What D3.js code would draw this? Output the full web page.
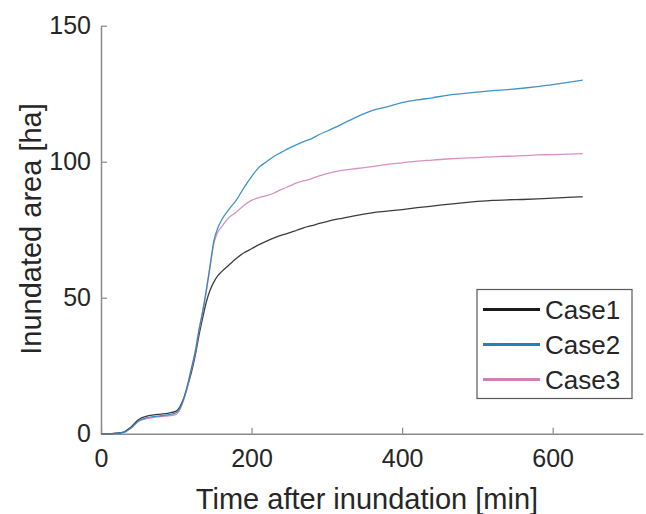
<!DOCTYPE html>
<html>
<head>
<meta charset="utf-8">
<script src="https://cdn.jsdelivr.net/npm/d3@7"></script>
<style>
  html, body { margin: 0; padding: 0; background: #fff; }
  svg { display: block; }
  text { font-family: "Liberation Sans", Arial, sans-serif; fill: #262626; }
</style>
</head>
<body>
<svg id="chart" width="646" height="514"></svg>
<script>
const time = [0,10,20,30,40,50,60,70,80,90,100,105,110,115,120,125,130,135,140,145,150,155,160,170,180,190,200,210,220,230,240,250,260,270,280,290,300,320,340,360,380,400,420,440,460,480,500,520,540,560,580,600,620,640];
const case1 = [0,0,0.2,0.6,2.5,5.2,6.4,6.9,7.2,7.6,8.3,10,13,17.5,22.5,28.5,36,42.5,48.5,52.8,55.8,58,59.5,62,64.5,66.5,68,69.5,70.8,72,73,73.8,74.8,75.8,76.5,77.3,78,79.2,80.3,81.2,81.8,82.4,83.1,83.7,84.3,84.9,85.4,85.8,86,86.1,86.3,86.6,86.9,87.1];
const case2 = [0,0,0.1,0.5,2.2,4.8,5.8,6.3,6.6,7,7.7,9.5,13,18,24,30,38,45,53,62,71,75.5,78.5,82.5,86,90.5,94.5,98,100,102,103.5,105,106.3,107.5,108.5,110,111.2,113.8,116.5,118.8,120.2,121.7,122.7,123.5,124.4,125,125.6,126.1,126.5,127,127.6,128.3,129.2,130];
const case3 = [0,0,0.1,0.4,2,4.5,5.5,6,6.3,6.6,7.1,9,12.5,17.5,23.5,29.5,37.5,44.5,52.5,61.5,70,74,76,79.5,81.5,84,85.8,86.8,87.5,88.5,89.8,91,92.2,93,93.8,94.8,95.6,96.8,97.5,98.2,99,99.6,100.2,100.6,101,101.3,101.5,101.8,102,102.2,102.5,102.6,102.8,103];
const seriesNames = ["Case1", "Case2", "Case3"];
const seriesColors = ["#1a1a1a", "#1f80c0", "#d27fb4"];
const xTicks = [0, 200, 400, 600];
const yTicks = [0, 50, 100, 150];
const xLabel = "Time after inundation [min]";
const yLabel = "Inundated area [ha]";

const svg = d3.select("#chart");
const x = d3.scaleLinear().domain([0, 720]).range([101, 643]);
const y = d3.scaleLinear().domain([0, 150]).range([433.7, 25.7]);

const axisColor = "#8a8a8a";

// X axis
const gx = svg.append("g").attr("transform", `translate(0,${y(0)})`)
  .call(d3.axisBottom(x).tickValues(xTicks).tickSizeInner(-6).tickSizeOuter(0).tickPadding(16).tickFormat(d3.format("d")));
gx.select(".domain").attr("stroke", axisColor).attr("stroke-width", 1.5);
gx.selectAll(".tick line").attr("stroke", axisColor).attr("stroke-width", 1.2);
gx.selectAll(".tick text").attr("font-size", 25).attr("fill", "#262626")
  .style("font-family", '"Liberation Sans", Arial, sans-serif');

// Y axis
const gy = svg.append("g").attr("transform", `translate(${x(0)},0)`)
  .call(d3.axisLeft(y).tickValues(yTicks).tickSizeInner(-6).tickSizeOuter(0).tickPadding(10).tickFormat(d3.format("d")));
gy.select(".domain").attr("stroke", axisColor).attr("stroke-width", 1.5);
gy.selectAll(".tick line").attr("stroke", axisColor).attr("stroke-width", 1.2);
gy.selectAll(".tick text").attr("font-size", 25).attr("fill", "#262626")
  .style("font-family", '"Liberation Sans", Arial, sans-serif');

// Axis labels
svg.append("text").attr("x", (x(0) + x(720)) / 2 - 5).attr("y", 509)
  .attr("text-anchor", "middle").attr("font-size", 29).text(xLabel);
svg.append("text").attr("transform", `translate(41,229) rotate(-90)`)
  .attr("text-anchor", "middle").attr("font-size", 29).text(yLabel);

// Lines
const allSeries = [case1, case2, case3];
const line = d3.line().x((d, i) => x(time[i])).y(d => y(d)).curve(d3.curveMonotoneX);
// draw in order black, pink, blue so blue on top as in reference
[0, 2, 1].forEach(k => {
  svg.append("path").datum(allSeries[k])
    .attr("fill", "none").attr("stroke", seriesColors[k]).attr("stroke-width", 1.3)
    .attr("stroke-opacity", 0.85)
    .attr("d", line);
});

// Legend
const lg = svg.append("g");
lg.append("rect").attr("x", 477).attr("y", 289.5).attr("width", 155).attr("height", 109)
  .attr("fill", "#fff").attr("stroke", "#5a5a5a").attr("stroke-width", 1.2);
seriesNames.forEach((name, i) => {
  const yy = 309.5 + i * 35;
  lg.append("line").attr("x1", 483).attr("x2", 540).attr("y1", yy).attr("y2", yy)
    .attr("stroke", seriesColors[i]).attr("stroke-width", 3);
  lg.append("text").attr("x", 545).attr("y", yy + 9).attr("font-size", 26).attr("fill", "#111").text(name);
});
</script>
</body>
</html>
